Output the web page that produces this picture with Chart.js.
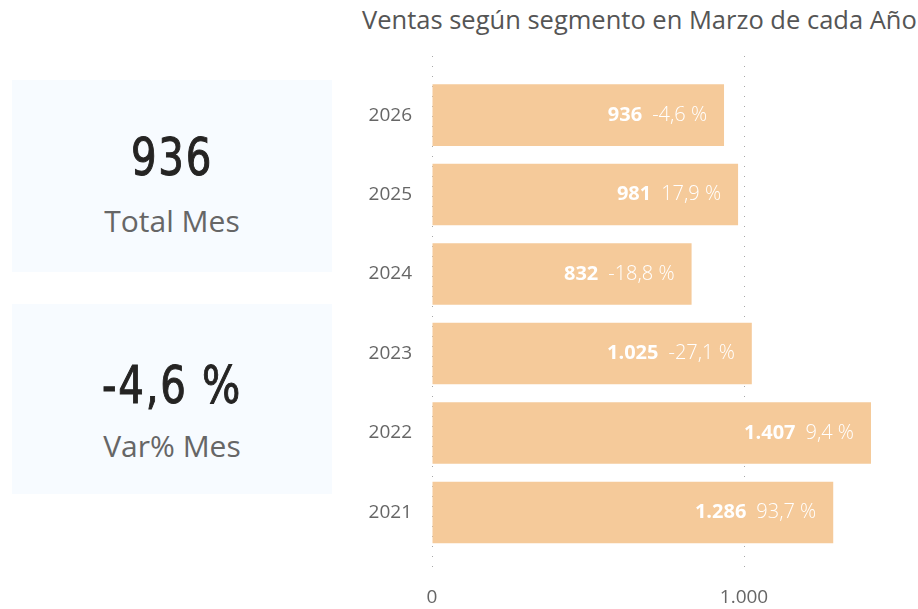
<!DOCTYPE html>
<html lang="es">
<head>
<meta charset="utf-8">
<script src="https://cdn.jsdelivr.net/npm/chart.js@4"></script>
<style>
  html, body { margin: 0; padding: 0; background: #fff; }
  body { width: 918px; height: 609px; position: relative; overflow: hidden; font-family: "Open Sans", "Noto Sans", sans-serif; }
  .tarjeta { position: absolute; left: 12px; width: 320px; background: #f7fbff; text-align: center; }
  .valor { position: absolute; left: 0; right: 0; font-family: "DejaVu Sans Condensed", "DejaVu Sans", sans-serif; font-size: 52px; color: #252423; line-height: 1; transform: scaleX(0.86); letter-spacing: 2px; -webkit-text-stroke: 1px #252423; }
  .etiqueta { position: absolute; left: 0; right: 0; font-size: 30px; color: #666; line-height: 1; }
  #titulo { position: absolute; left: 362px; top: 3px; font-size: 25.5px; color: #555; white-space: nowrap; line-height: 1.3; }
  #zonaGrafico { position: absolute; left: 340px; top: 0; width: 578px; height: 609px; }
</style>
</head>
<body>
<div class="tarjeta" style="top:80px;height:192px;">
  <div class="valor" style="top:51px;">936</div>
  <div class="etiqueta" style="top:126px;">Total Mes</div>
</div>
<div class="tarjeta" style="top:304px;height:190px;">
  <div class="valor" style="top:55px;">-4,6 %</div>
  <div class="etiqueta" style="top:127px;">Var% Mes</div>
</div>
<div id="titulo">Ventas según segmento en Marzo de cada Año</div>
<div id="zonaGrafico"><canvas id="graficoVentas"></canvas></div>

<script>
//? Datos del gráfico.

const anios = ["2026", "2025", "2024", "2023", "2022", "2021"];
const ventas = [936, 981, 832, 1025, 1407, 1286];
const variacion = [-4.6, 17.9, -18.8, -27.1, 9.4, 93.7];
const ticksX = [0, 1000];

//? -------------------------------------------------

//? Formato español : 1.025 y -4,6 %.

const formatoMiles = (v) =>
  String(Math.round(v)).replace(/\B(?=(\d{3})+(?!\d))/g, ".");

const formatoPorcentaje = (v) => v.toFixed(1).replace(".", ",") + " %";

//? -------------------------------------------------

//? Etiquetas dentro de las barras.

const etiquetasBarras = {
  id: "etiquetasBarras",
  afterDatasetsDraw(chart) {
    const ctx = chart.ctx;
    const meta = chart.getDatasetMeta(0);
    ctx.save();
    ctx.fillStyle = "#ffffff";
    ctx.textBaseline = "middle";
    ctx.textAlign = "right";
    meta.data.forEach((barra, i) => {
      const fin = barra.x - 17;
      ctx.font = "300 20px 'Open Sans'";
      const pct = formatoPorcentaje(variacion[i]);
      ctx.fillText(pct, fin, barra.y);
      const anchoPct = ctx.measureText(pct).width;
      ctx.font = "bold 20px 'Open Sans'";
      ctx.fillText(formatoMiles(ventas[i]), fin - anchoPct - 10, barra.y);
    });
    ctx.restore();
  },
};

//? -------------------------------------------------

//? Construcción del gráfico.

const construirGrafico = () => {
  try {
    const ctx = document.getElementById("graficoVentas").getContext("2d");

    const data = {
      datasets: [
        {
          label: "Ventas",
          data: ventas.map((v, i) => ({ x: v, y: i })),
          backgroundColor: "#f5ca9a",
          borderWidth: 0,
          barPercentage: 0.775,
          categoryPercentage: 1,
        },
      ],
    };

    const options = {
      indexAxis: "y",
      responsive: true,
      maintainAspectRatio: false,
      animation: false,
      layout: { padding: { top: 56, right: 18, left: 0, bottom: 0 } },
      plugins: { legend: { display: false }, tooltip: { enabled: false } },
      scales: {
        x: {
          type: "linear",
          min: 0,
          max: 1500,
          afterBuildTicks: (scale) => {
            scale.ticks = ticksX.map((v) => ({ value: v }));
          },
          afterFit: (scale) => {
            scale.height = 33;
          },
          ticks: {
            callback: (v) => formatoMiles(v),
            color: "#666",
            font: { family: "Open Sans", size: 19 },
            padding: 10,
            maxRotation: 0,
          },
          grid: { color: "#a8a8a8", lineWidth: 1, drawTicks: false },
          border: { display: false, dash: [1, 9] },
        },
        y: {
          type: "linear",
          reverse: true,
          offset: false,
          min: -0.744,
          max: 5.8,
          afterBuildTicks: (scale) => {
            scale.ticks = anios.map((a, i) => ({ value: i }));
          },
          afterFit: (scale) => {
            scale.width = 92;
          },
          ticks: {
            callback: (v) => anios[v],
            color: "#666",
            font: { family: "Open Sans", size: 19 },
            padding: 20,
          },
          grid: { display: false, drawTicks: false, offset: false },
          border: { display: false },
        },
      },
    };

    new Chart(ctx, { type: "bar", data, options, plugins: [etiquetasBarras] });
  } catch (error) {
    console.error("🔴 ERROR | Construcción del gráfico :", error);
  }
};

construirGrafico();
</script>
</body>
</html>
